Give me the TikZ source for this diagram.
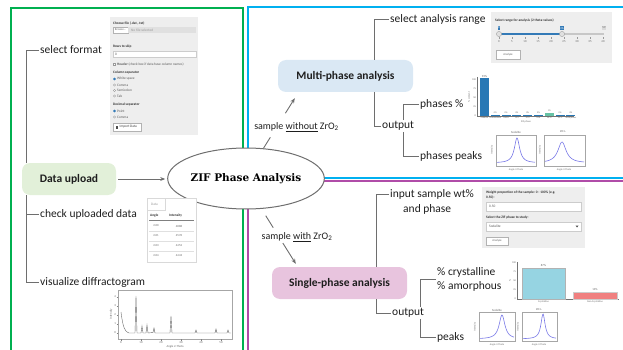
\documentclass[tikz,border=0pt]{standalone}
\usepackage{fontspec}
\setmainfont{Carlito}
\newfontfamily\zifserif{DejaVu Serif}
\usetikzlibrary{calc,arrows.meta,shapes.geometric}
\definecolor{fgreen}{RGB}{0,176,80}
\definecolor{fblue}{RGB}{0,176,240}
\definecolor{fmag}{RGB}{176,76,168}
\definecolor{lngray}{RGB}{110,110,110}
\definecolor{txt}{RGB}{30,30,30}
\definecolor{dufill}{RGB}{226,240,217}
\definecolor{mpfill}{RGB}{218,232,244}
\definecolor{spfill}{RGB}{232,196,222}
\definecolor{uigray}{RGB}{238,238,238}
\definecolor{uiblue}{RGB}{51,122,183}
\definecolor{barblue}{RGB}{40,120,181}
\definecolor{bargreen}{RGB}{102,194,165}
\definecolor{barcyan}{RGB}{150,212,226}
\definecolor{barred}{RGB}{240,128,128}
\definecolor{peakblue}{RGB}{120,120,230}
\begin{document}
\begin{tikzpicture}[x=1pt,y=-1pt,
  frameline/.style={line width=1.8pt},
  tree/.style={draw=lngray, line width=0.9pt},
  arr/.style={draw=lngray, line width=0.9pt, -{Stealth[length=5pt,width=4pt]}},
  box/.style={rounded corners=8pt, minimum height=32pt, font=\fontsize{11.5}{13}\selectfont\bfseries, text=txt, inner sep=2pt},
  tt/.style={font=\fontsize{11.5}{13}\selectfont, text=txt, inner sep=1pt, anchor=west},
  lab/.style={font=\fontsize{10}{12}\selectfont, text=txt, inner sep=1pt},
  ui/.style={font=\fontsize{3.5}{4}\selectfont, text=black!65, inner sep=0pt, anchor=west},
  uib/.style={font=\fontsize{3.5}{4}\selectfont\bfseries, text=black!80, inner sep=0pt, anchor=west},
  uic/.style={font=\fontsize{3}{3.5}\selectfont, text=black!60, inner sep=0pt, anchor=center},
  field/.style={fill=white, draw=black!20, line width=0.25pt},
  uibtn/.style={fill=white, draw=black!30, line width=0.25pt},
  radoff/.style={fill=white, draw=black!40, line width=0.25pt},
  radon/.style={fill=uiblue, draw=uiblue, line width=0.25pt},
  pframe/.style={draw=black!35, line width=0.3pt},
  axisln/.style={draw=black!55, line width=0.3pt},
  peak/.style={draw=peakblue, line width=0.6pt}
]
\useasboundingbox (0,0) rectangle (623,350);
\clip (0,0) rectangle (623,350);

% ---------- frames ----------
\draw[fgreen, frameline] (11,8) rectangle (243,400);
\draw[fblue, frameline] (248,7) rectangle (640,178);
\draw[fmag, frameline] (248,181) rectangle (640,400);

% ---------- main nodes ----------
\node[ellipse, draw=lngray, line width=1pt, fill=white, minimum width=134pt, minimum height=61pt, inner sep=0pt,
      font=\zifserif\bfseries\fontsize{10.5}{12}\selectfont, text=black] (zif) at (246,178.5) {ZIF Phase Analysis};
\node[box, fill=dufill, minimum width=94pt] (du) at (69,179) {Data upload};
\node[box, fill=mpfill, minimum width=135pt] (mp) at (345.5,76) {Multi-phase analysis};
\node[box, fill=spfill, minimum width=135pt] (sp) at (339.5,283) {Single-phase analysis};

% ---------- left tree ----------
\coordinate (lx) at (26,0);
\node[tt] (sf) at (39,50) {select format};
\node[tt] (cu) at (39,214) {check uploaded data};
\node[tt] (vd) at (39,282) {visualize diffractogram};
\draw[tree] (sf.west) -| (lx |- du.north);
\draw[tree] (lx |- du.south) |- (vd.west);
\draw[tree] (lx |- cu.west) -- (cu.west);
\draw[arr, shorten <=2pt, shorten >=2pt] (du.east) -- (du.east -| zif.west);

% ---------- multi-phase tree ----------
\coordinate (mx) at (374,0);
\coordinate (mx2) at (403,0);
\node[tt] (sar) at (389,19) {select analysis range};
\node[tt] (mout) at (381,126) {output};
\node[tt] (php) at (419,104) {phases \%};
\node[tt] (pp) at (419,156) {phases peaks};
\draw[tree] (sar.west) -| (mx |- mp.north);
\draw[tree] (mx |- mp.south) |- (mout.west);
\draw[tree] (mx2 |- mout.north) |- (php.west);
\draw[tree] (mx2 |- mout.south) |- (pp.west);

% ---------- single-phase tree ----------
\coordinate (sx) at (376,0);
\coordinate (sx2) at (420,0);
\node[tt] (isw) at (389,194) {input sample wt\%};
\node[tt] (isw2) at (402,209) {and phase};
\node[tt] (sout) at (391,313) {output};
\node[tt, align=left, font=\fontsize{11.5}{14.5}\selectfont] (cry) at (436,279.5) {\% crystalline\\\% amorphous};
\node[tt] (pk) at (436,337) {peaks};
\draw[tree] (isw.west) -| (sx |- sp.north);
\draw[tree] (sx |- sp.south) |- (sout.west);
\draw[tree] (sx2 |- sout.north) |- (cry.west);
\draw[tree] (sx2 |- sout.south) |- (pk.west);

% ---------- arrows from ellipse ----------
\coordinate (mpend) at ($(mp.south west)+(17,6)$);
\draw[tree] (zif.60) -- ($(zif.60)!0.22!(mpend)$);
\draw[arr] ($(zif.60)!0.7!(mpend)$) -- (mpend);
\node[lab] (lwo) at (296.5,127) {sample \underline{without} ZrO\textsubscript{2}};

\coordinate (spend) at ($(sp.north west)+(24,-3)$);
\coordinate (s2) at ($(zif.-63)!8pt!(spend)$);
\draw[tree] (s2) -- ($(s2)!0.25!(spend)$);
\draw[arr] ($(s2)!0.57!(spend)$) -- (spend);
\node[lab] (lw) at (297,237) {sample \underline{with} ZrO\textsubscript{2}};

% ---------- UI: file import panel ----------
\fill[uigray] (110,17) rectangle (198,135);
\node[uib] at (113,23) {Choose file (.dat, .txt)};
\draw[uibtn] (113,27) rectangle (128,33);
\node[uic] at (120.5,30) {Browse...};
\fill[black!12] (128,27) rectangle (196,33);
\node[ui, text=black!40] at (131,30) {No file selected};
\node[uib] at (113,47) {Rows to skip};
\draw[field] (113,51) rectangle (196,57);
\node[ui] at (115,54) {0};
\draw[radoff] (113.3,62.8) rectangle (115.5,65);
\node[ui] at (117,64) {\textbf{Header} (check box if data have column names)};
\node[uib] at (113,73) {Column separator};
\draw[radon] (114.5,79) circle (1.1pt);  \node[ui] at (117,79) {White space};
\draw[radoff] (114.5,85) circle (1.1pt); \node[ui] at (117,85) {Comma};
\draw[radoff] (114.5,90.5) circle (1.1pt); \node[ui] at (117,90.5) {Semicolon};
\draw[radoff] (114.5,96) circle (1.1pt); \node[ui] at (117,96) {Tab};
\node[uib] at (113,105) {Decimal separator};
\draw[radon] (114.5,111) circle (1.1pt); \node[ui] at (117,111) {Point};
\draw[radoff] (114.5,117) circle (1.1pt); \node[ui] at (117,117) {Comma};
\draw[uibtn] (113,123) rectangle (141,131);
\fill[black!70] (116,125.5) rectangle (118,128.5);
\node[ui, text=black!75] at (119.5,127) {Import Data};

% ---------- UI: data table ----------
\draw[black!15, fill=white, line width=0.3pt] (147,198) rectangle (196,262);
\draw[black!15, line width=0.3pt] (147,210) -- (165,210) -- (165,198);
\node[ui, text=black!40] at (151,204) {Data};
\node[uib] at (150,216) {Angle};
\node[uib] at (169,216) {Intensity};
\draw[black!50, line width=0.3pt] (149,220) -- (194,220);
\node[uic] at (156,226) {2.00}; \node[uic] at (179,226) {4888};
\node[uic] at (156,236) {2.01}; \node[uic] at (179,236) {4539};
\node[uic] at (156,246) {2.03}; \node[uic] at (179,246) {4452};
\node[uic] at (156,256) {2.04}; \node[uic] at (179,256) {4443};
\draw[black!12, line width=0.2pt] (149,231) -- (194,231) (149,241) -- (194,241) (149,251) -- (194,251);

% ---------- UI: diffractogram ----------
\draw[pframe] (118,290) rectangle (232,339);
\foreach \yy/\tl in {333/0,324/1,315/2,306/3,297/4} {
  \draw[black!50, line width=0.25pt] (116.5,\yy) -- (118,\yy);
  \node[uic, anchor=east] at (116,\yy) {\tl};
}
\node[uic, rotate=90] at (111,314) {Intensity};
\foreach \xx/\tl in {121/0,141/10,161/20,181/30,201/40,221/50} {
  \draw[black!50, line width=0.25pt] (\xx,339) -- (\xx,340.5);
  \node[uic] at (\xx,342.5) {\tl};
}
\node[uic] at (175,346.5) {Angle 2-Theta};
\draw[black!60, line width=0.4pt] (121,312) .. controls (123,328) and (125,332) .. (129,333)
  -- (135,333) -- (136,296) -- (137,333) -- (141,333) -- (142,326) -- (143,333) -- (146,333)
  -- (147,325) -- (148,333) -- (153,332.5) -- (154,328) -- (155,333) -- (170,333) -- (171,316)
  -- (172,333) -- (195,333) -- (196,330) -- (197,333) -- (215,333) -- (216,329) -- (217,333)
  -- (227,333) -- (228,330) -- (229,333) -- (231,333);

% ---------- UI: slider panel ----------
\fill[uigray] (491,12) rectangle (612,63);
\node[uib] at (495,20) {Select range for analysis (2 theta-values)};
\draw[black!22, line width=1.2pt] (499,34) -- (604,34);
\draw[uiblue, line width=1.4pt] (499,34) -- (562,34);
\node[fill=uiblue, text=white, font=\fontsize{3}{3.5}\selectfont, inner sep=0.6pt] at (499,28) {0};
\node[fill=uiblue, text=white, font=\fontsize{3}{3.5}\selectfont, inner sep=0.6pt] at (562,28) {26};
\node[fill=black!15, text=black!60, font=\fontsize{3}{3.5}\selectfont, inner sep=0.6pt] at (604,28) {59};
\filldraw[fill=black!12, draw=black!40, line width=0.3pt] (499,34) circle (2.6pt);
\filldraw[fill=black!12, draw=black!40, line width=0.3pt] (562,34) circle (2.6pt);
\foreach \i in {0,...,8} {
  \draw[black!40, line width=0.25pt] ({499+13*\i},37.5) -- ({499+13*\i},39.5);
  \pgfmathtruncatemacro{\tv}{5*\i}
  \node[uic] at ({499+13*\i},42) {\tv};
}
\draw[uibtn] (496,50) rectangle (520,59);
\node[uic] at (508,54.5) {Analyze};

% ---------- UI: bar chart (multi) ----------
\draw[axisln] (477,77) -- (477,116) -- (574,116);
\foreach \yy/\tl in {116/0,107/25,98/50,89/75,80/100} {
  \node[uic, anchor=east, font=\fontsize{2.5}{3}\selectfont] at (476,\yy) {\tl};
}
\node[uic, rotate=90, font=\fontsize{2.5}{3}\selectfont] at (469,97) {\% content};
\fill[barblue] (480,78) rectangle (489,116);
\node[uic] at (484.5,76) {93\%};
\foreach \i/\nm in {1/Diamondoid,2/Katsa,3/U12,4/U13,5/U16,7/ZIF-L,8/amorphous} {
  \fill[barblue] ({480+10.8*\i},115.3) rectangle ({489+10.8*\i},116);
  \node[uic, font=\fontsize{2.3}{3}\selectfont] at ({484.5+10.8*\i},113) {0\%};
  \node[uic, font=\fontsize{2.3}{3}\selectfont] at ({484.5+10.8*\i},118) {\nm};
}
\fill[bargreen] ({480+10.8*6},113.5) rectangle ({489+10.8*6},116);
\node[uic, font=\fontsize{2.3}{3}\selectfont] at ({484.5+10.8*6},111) {1\%};
\node[uic, font=\fontsize{2.3}{3}\selectfont] at ({484.5+10.8*6},118) {ZIF-8};
\node[uic, font=\fontsize{2.3}{3}\selectfont] at (484.5,118) {Sodalite};
\node[uic, font=\fontsize{2.5}{3}\selectfont] at (526,121.5) {ZIF phase};

% ---------- UI: peak plots (multi) ----------
\node[uic] at (516,132) {Sodalite};
\draw[pframe] (496,135) rectangle (536,166);
\draw[peak, domain=497:535, samples=60, smooth] plot (\x,{163-25/(1+((\x-517)/3.2)^2)});
\node[uic, rotate=90, font=\fontsize{2.5}{3}\selectfont] at (492,150) {Intensity};
\node[uic, font=\fontsize{2.5}{3}\selectfont] at (516,169.5) {Angle 2-Theta};
\node[uic] at (563,132) {ZIF-L};
\draw[pframe] (544,135) rectangle (585,166);
\draw[peak, domain=545:584, samples=60, smooth] plot (\x,{163-21/(1+((\x-562)/5)^2)});
\node[uic, rotate=90, font=\fontsize{2.5}{3}\selectfont] at (540,150) {Intensity};
\node[uic, font=\fontsize{2.5}{3}\selectfont] at (564,169.5) {Angle 2-Theta};

% ---------- UI: single-phase input panel ----------
\fill[uigray] (482,187) rectangle (585,248);
\node[uib] at (486,192) {Weight proportion of the sample: 0 - 100\% (e.g.};
\node[uib] at (486,197) {0.50):};
\draw[field] (486,202) rectangle (581,211);
\node[ui] at (489,206.5) {0.50};
\node[uib] at (486,218) {Select the ZIF phase to study:};
\draw[field] (486,222) rectangle (581,231);
\node[ui] at (489,226.5) {Sodalite};
\fill[black!70] (575.5,225.5) -- (578.5,225.5) -- (577,227.5) -- cycle;
\draw[uibtn] (486,237) rectangle (508,245);
\node[uic] at (497,241) {Analyze};

% ---------- UI: bar chart (single) ----------
\draw[axisln] (517,262) -- (517,299) -- (619,299);
\foreach \yy/\tl in {299/0,290/25,281/50,272/75,263/100} {
  \node[uic, anchor=east, font=\fontsize{2.5}{3}\selectfont] at (516,\yy) {\tl};
}
\node[uic, rotate=90, font=\fontsize{2.5}{3}\selectfont] at (510,281) {\%};
\filldraw[fill=barcyan, draw=black!30, line width=0.2pt] (522,268) rectangle (565,299);
\node[uic] at (543.5,265.5) {87\%};
\filldraw[fill=barred, draw=black!20, line width=0.2pt] (573,292) rectangle (617,299);
\node[uic] at (595,289.5) {13\%};
\node[uic, font=\fontsize{2.5}{3}\selectfont] at (543.5,302) {Crystalline};
\node[uic, font=\fontsize{2.5}{3}\selectfont] at (595,302) {Non-Crystalline};

% ---------- UI: peak plots (single) ----------
\node[uic] at (497,310) {Sodalite};
\draw[pframe] (479,312.5) rectangle (515,341);
\draw[peak, domain=480:514, samples=60, smooth] plot (\x,{339-24/(1+((\x-502)/3.5)^2)});
\node[uic, rotate=90, font=\fontsize{2.5}{3}\selectfont] at (475,327) {Intensity};
\node[uic, font=\fontsize{2.5}{3}\selectfont] at (497,345) {Angle 2-Theta};
\node[uic] at (539,310) {ZIF-L};
\draw[pframe] (522,312.5) rectangle (557,341);
\draw[peak, domain=523:556, samples=60, smooth] plot (\x,{339-25/(1+((\x-543)/2.5)^2)});
\node[uic, rotate=90, font=\fontsize{2.5}{3}\selectfont] at (518,327) {Intensity};
\node[uic, font=\fontsize{2.5}{3}\selectfont] at (539,345) {Angle 2-Theta};
\end{tikzpicture}
\end{document}
